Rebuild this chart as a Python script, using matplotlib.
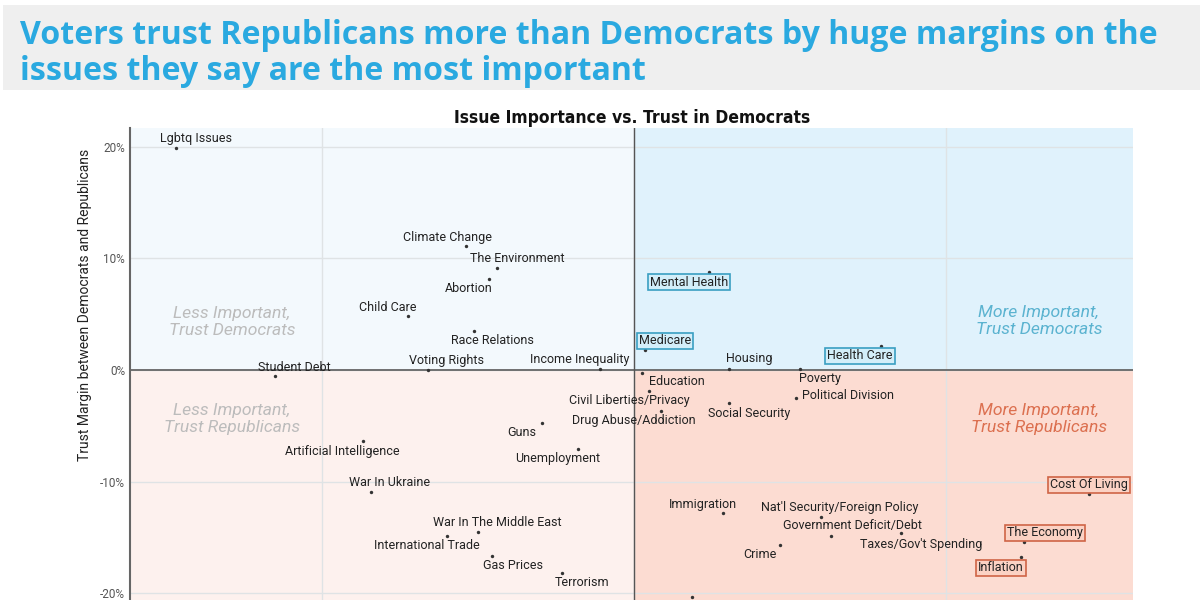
import matplotlib
matplotlib.use("Agg")
import matplotlib.pyplot as plt
from matplotlib.patches import Rectangle
from matplotlib.ticker import FuncFormatter
from matplotlib import font_manager

# issue -> (importance, trust margin D minus R, in %)
issues = ["Lgbtq Issues", "Climate Change", "The Environment", "Abortion", "Child Care",
          "Race Relations", "Voting Rights", "Income Inequality", "Student Debt",
          "Mental Health", "Medicare", "Housing", "Health Care", "Education", "Poverty",
          "Political Division", "Civil Liberties/Privacy", "Drug Abuse/Addiction",
          "Social Security", "Guns", "Unemployment", "Artificial Intelligence",
          "War In Ukraine", "War In The Middle East", "International Trade", "Gas Prices",
          "Terrorism", "Immigration", "Nat'l Security/Foreign Policy",
          "Government Deficit/Debt", "Taxes/Gov't Spending", "Crime", "Cost Of Living",
          "The Economy", "Inflation", ""]
importance = [5.32, 14.62, 15.61, 15.35, 12.76, 14.87, 13.40, 18.91, 8.49,
              22.40, 20.35, 23.04, 27.92, 20.26, 25.32, 25.19, 20.48, 20.87,
              23.04, 17.05, 18.21, 11.31, 11.57, 15.00, 14.01, 15.45, 17.69,
              22.85, 25.99, 26.31, 28.56, 24.68, 34.58, 32.50, 32.40, 21.86]
trust_margin = [19.9, 11.1, 9.13, 8.15, 4.83, 3.49, 0.0, 0.09, -0.54,
                8.77, 1.79, 0.09, 2.15, -0.27, 0.09, -2.51, -1.88, -3.67,
                -2.95, -4.74, -7.07, -6.36, -10.92, -14.5, -14.86, -16.65, -18.17,
                -12.8, -13.16, -14.86, -14.6, -15.67, -11.1, -15.4, -16.74, -20.3]
boxed = ["Mental Health", "Medicare", "Health Care", "Cost Of Living", "The Economy", "Inflation"]

# label placement relative to the dot, in pixels (dx right, dy up)
label_offsets = [(20, 9), (-19, 9), (20, 10), (-20, -10), (-20, 9),
                 (19, -10), (19, 9), (-20, 9), (20, 9),
                 (-20, -10), (20, 9), (20, 10), (-21, -10), (35, -9), (20, -10),
                 (52, 2), (-20, -10), (-27, -10),
                 (20, -11), (-20, -10), (-20, -10), (-20, -11),
                 (19, 9), (19, 9), (-20, -10), (21, -10), (20, -10),
                 (-20, 8), (19, 9), (22, 10), (20, -11), (-20, -10), (0, 9),
                 (21, 9), (-20, -11), (0, -10)]

mid_x = 20
xmin, xmax = 3.85, 36.0
ymin, ymax = -24, 21.67


def has_font(**kw):
    try:
        font_manager.findfont(font_manager.FontProperties(**kw), fallback_to_default=False)
        return True
    except Exception:
        return False


if has_font(family='Liberation Sans Narrow', weight='bold'):
    sub_font = dict(family=['Liberation Sans Narrow', 'DejaVu Sans'], fontsize=14)
else:
    sub_font = dict(family=['DejaVu Sans'], fontstretch='condensed', fontsize=12.5)

fig = plt.figure(figsize=(12, 6), dpi=100)
plt.rcParams['font.family'] = ['Roboto', 'DejaVu Sans']

# title banner
fig.patches.append(Rectangle((0.0025, 0.85), 0.9975, 0.142, transform=fig.transFigure,
                             facecolor='#efefef', edgecolor='none', zorder=0))
title_font = dict(fontsize=23.1, fontweight='bold', color='#2aa9e0', va='baseline',
                  family=['Open Sans', 'DejaVu Sans'])
fig.text(0.0167, 0.927, "Voters trust Republicans more than Democrats by huge margins on the", **title_font)
fig.text(0.0167, 0.867, "issues they say are the most important", **title_font)
fig.text(0.5267, 0.803, "Issue Importance vs. Trust in Democrats", ha='center', va='center',
         fontweight='bold', color='#111111', **sub_font)

ax = fig.add_axes([0.1083, -0.0633, 0.836, 0.85])
ax.set_xlim(xmin, xmax)
ax.set_ylim(ymin, ymax)
ax.set_facecolor('white')

# quadrant backgrounds
ax.add_patch(Rectangle((xmin, 0), mid_x - xmin, ymax, facecolor='#f3f9fd', edgecolor='none', zorder=0))
ax.add_patch(Rectangle((mid_x, 0), xmax - mid_x, ymax, facecolor='#e0f2fc', edgecolor='none', zorder=0))
ax.add_patch(Rectangle((xmin, ymin), mid_x - xmin, -ymin, facecolor='#fdf1ee', edgecolor='none', zorder=0))
ax.add_patch(Rectangle((mid_x, ymin), xmax - mid_x, -ymin, facecolor='#fcdcd2', edgecolor='none', zorder=0))

ax.set_xticks([10, 20, 30])
ax.set_yticks([-20, -10, 0, 10, 20])
ax.grid(True, color='#dfe3e5', linewidth=1, zorder=1)
ax.axhline(0, color='#666666', linewidth=1.3, zorder=2)
ax.axvline(mid_x, color='#555555', linewidth=1.0, zorder=2)
ax.yaxis.set_major_formatter(FuncFormatter(lambda v, p: f"{v:.0f}%"))
ax.tick_params(axis='y', length=0, pad=3.5, labelsize=8.5, labelcolor='#555555')
ax.tick_params(axis='x', length=0, labelbottom=False)
for side in ['top', 'right', 'bottom']:
    ax.spines[side].set_visible(False)
ax.spines['left'].set_color('#666666')
ax.spines['left'].set_linewidth(1.5)
ax.set_ylabel("Trust Margin between Democrats and Republicans", fontsize=10, color='#222222')
ax.yaxis.set_label_coords(-0.038, 0.653)

# quadrant captions
q_font = dict(fontsize=12.6, style='italic', fontweight='normal', ha='center', va='center', linespacing=1.2)
ax.text(7.12, 4.3, "Less Important,\nTrust Democrats", color='#bcbcbc', **q_font)
ax.text(7.12, -4.4, "Less Important,\nTrust Republicans", color='#bcbcbc', **q_font)
ax.text(32.98, 4.4, "More Important,\nTrust Democrats", color='#5bb3d0', **q_font)
ax.text(32.98, -4.4, "More Important,\nTrust Republicans", color='#dc7050', **q_font)

ax.scatter(importance, trust_margin, s=6, color='#333333', zorder=4, linewidths=0)

for name, x, y, off in zip(issues, importance, trust_margin, label_offsets):
    if not name:
        continue
    bbox = None
    if name in boxed:
        if y >= 0:
            bbox = dict(boxstyle='square,pad=0.15', facecolor='#d3eef9', edgecolor='#3a9fc2', linewidth=1.2)
        else:
            bbox = dict(boxstyle='square,pad=0.15', facecolor='#fbd2c4', edgecolor='#cf6446', linewidth=1.2)
    ax.annotate(name, (x, y), xytext=off, textcoords='offset pixels', ha='center', va='center',
                fontsize=9, color='#222222', bbox=bbox, zorder=5)

fig.savefig("out.png", dpi=100)
